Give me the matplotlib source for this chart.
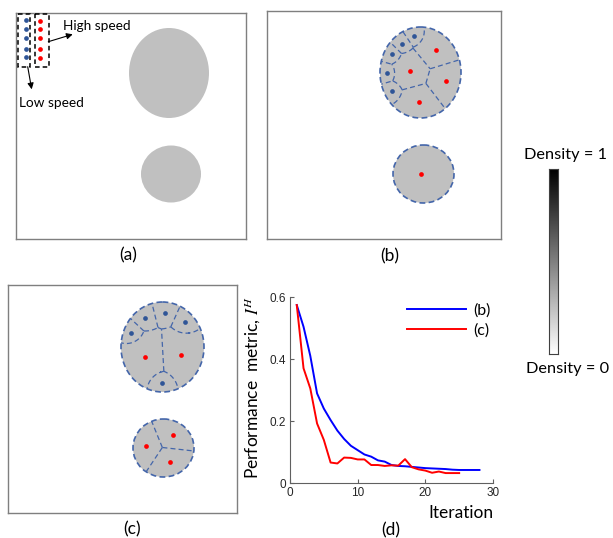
import numpy as np
import matplotlib
matplotlib.use('Agg')
import matplotlib.pyplot as plt
from matplotlib.patches import Ellipse, Rectangle

plt.rcParams['mathtext.fontset'] = 'stix'

# ---------------- data ----------------
# density regions per panel: centre x, centre y, width, height (panel units, y downward)
regions_a = [(153, 60, 80, 90), (155, 161, 60, 57)]
regions_b = [(153.5, 61.5, 81, 91), (156.5, 163, 61, 58)]
regions_c = [(154.5, 62, 83, 90), (155.5, 163, 61, 58)]

# (a) initial agent positions
a_low_x = [9.7, 9.7, 9.7, 9.7, 9.7]
a_low_y = [7, 16, 25, 35.7, 44.3]
a_high_x = [24.3, 24.3, 24.3, 24.3, 24.3]
a_high_y = [7.7, 16.3, 25, 36.3, 45]

# (b) final positions
b_low_x = [147.3, 135.3, 124.7, 119.7, 125]
b_low_y = [24.7, 32.7, 43.3, 61.7, 80]
b_high_x = [169, 143.3, 178.7, 151.7, 154]
b_high_y = [38.7, 60, 70.3, 91, 163]

# (c) final positions
c_low_x = [123, 137, 157, 177, 154]
c_low_y = [48, 33, 28, 37, 98]
c_high_x = [137, 173, 138, 165, 162]
c_high_y = [72, 70, 161, 150, 177]

speed_low = 1.0
speed_high = 2.0

# (d) performance metric
iter_b = list(range(1, 29))
metric_b = [0.574, 0.504, 0.41, 0.289, 0.24, 0.203, 0.169, 0.142, 0.12, 0.106,
            0.092, 0.085, 0.073, 0.069, 0.058, 0.055, 0.054, 0.052, 0.05, 0.048,
            0.047, 0.046, 0.045, 0.043, 0.042, 0.042, 0.042, 0.042]
iter_c = list(range(1, 26))
metric_c = [0.574, 0.37, 0.305, 0.192, 0.139, 0.066, 0.063, 0.082, 0.081, 0.076,
            0.076, 0.058, 0.058, 0.055, 0.057, 0.056, 0.077, 0.051, 0.044, 0.040,
            0.033, 0.037, 0.032, 0.032, 0.032]

# ---------------- style ----------------
W, H = 613, 538
TXT = ['Lato', 'DejaVu Sans']
GREY = '#c0c0c0'
EDGE = '#4466aa'
BLUE_DOT = '#2f5597'
RED_DOT = '#ff0000'
BORDER = '#7f7f7f'

fig = plt.figure(figsize=(W / 100, H / 100), dpi=100)


def px_axes(left, top, w, h):
    return fig.add_axes([left / W, 1 - (top + h) / H, w / W, h / H])


def panel(left, top, w, h):
    ax = px_axes(left, top, w, h)
    ax.set_xlim(0, w)
    ax.set_ylim(h, 0)
    ax.set_xticks([])
    ax.set_yticks([])
    for s in ax.spines.values():
        s.set_color(BORDER)
        s.set_linewidth(1.0)
    return ax


def draw_partition(ax, regions, xs, ys, speeds):
    pts = list(zip(xs, ys))
    for (cx, cy, w, h) in regions:
        fill = Ellipse((cx, cy), w, h, facecolor=GREY, edgecolor='none', zorder=1)
        ax.add_patch(fill)
        idx = [i for i, (x, y) in enumerate(pts)
               if ((x - cx) / (w / 2)) ** 2 + ((y - cy) / (h / 2)) ** 2 <= 1]
        if len(idx) >= 2:
            gx = np.arange(cx - w / 2 - 2, cx + w / 2 + 2, 0.2)
            gy = np.arange(cy - h / 2 - 2, cy + h / 2 + 2, 0.2)
            X, Y = np.meshgrid(gx, gy)
            T = np.array([np.hypot(X - pts[i][0], Y - pts[i][1]) / speeds[i] for i in idx])
            lab = T.argmin(0)
            for a in range(len(idx)):
                for b in range(a + 1, len(idx)):
                    m = (lab != a) & (lab != b)
                    if m.all():
                        continue
                    G = np.ma.array(T[a] - T[b], mask=m)
                    cs = ax.contour(X, Y, G, levels=[0], colors=EDGE, linewidths=0.9,
                                    linestyles=[(0, (4, 2.5))], zorder=2)
                    cs.set_clip_path(fill)
        ax.add_patch(Ellipse((cx, cy), w, h, facecolor='none', edgecolor=EDGE,
                             lw=1.2, ls=(0, (3.5, 2)), zorder=3))


def dots(ax, xs, ys, color):
    ax.plot(xs, ys, 'o', ms=3.4, color=color, mec='none', zorder=5)


# ---------------- panel (a) ----------------
axa = panel(16, 13, 229.5, 226)
for (cx, cy, w, h) in regions_a:
    axa.add_patch(Ellipse((cx, cy), w, h, facecolor=GREY, edgecolor='none'))
dots(axa, a_low_x, a_low_y, BLUE_DOT)
dots(axa, a_high_x, a_high_y, RED_DOT)
axa.add_patch(Rectangle((2.3, 1.3), 11.7, 52.4, fill=False, ec='black', lw=1.1,
                        ls=(0, (3, 2)), zorder=4))
axa.add_patch(Rectangle((19.3, 1.3), 13.4, 52.4, fill=False, ec='black', lw=1.1,
                        ls=(0, (3, 2)), zorder=4))
axa.annotate('', xy=(56.7, 21.3), xytext=(32.3, 28.7),
             arrowprops=dict(arrowstyle='-|>', color='black', lw=0.8,
                             mutation_scale=9, shrinkA=0, shrinkB=0))
axa.annotate('', xy=(15.7, 76.3), xytext=(11.7, 53.7),
             arrowprops=dict(arrowstyle='-|>', color='black', lw=0.8,
                             mutation_scale=9, shrinkA=0, shrinkB=0))
axa.text(47.3, 13, 'High speed', family=TXT, fontsize=9.8, ha='left', va='center')
axa.text(3, 90, 'Low speed', family=TXT, fontsize=9.8, ha='left', va='center')

# ---------------- panel (b) ----------------
axb = panel(267, 11, 234, 228)
draw_partition(axb, regions_b, b_low_x + b_high_x, b_low_y + b_high_y,
               [speed_low] * len(b_low_x) + [speed_high] * len(b_high_x))
dots(axb, b_low_x, b_low_y, BLUE_DOT)
dots(axb, b_high_x, b_high_y, RED_DOT)

# ---------------- panel (c) ----------------
axc = panel(8, 285, 229, 228)
draw_partition(axc, regions_c, c_low_x + c_high_x, c_low_y + c_high_y,
               [speed_low] * len(c_low_x) + [speed_high] * len(c_high_x))
dots(axc, c_low_x, c_low_y, BLUE_DOT)
dots(axc, c_high_x, c_high_y, RED_DOT)

# ---------------- panel (d) ----------------
axd = px_axes(290, 297, 203, 186)
axd.plot(iter_b, metric_b, color='#0000ff', lw=1.4, label='(b)')
axd.plot(iter_c, metric_c, color='#ff0000', lw=1.4, label='(c)')
axd.set_xlim(0, 30)
axd.set_ylim(0, 0.6)
axd.set_xticks([0, 10, 20, 30])
axd.set_yticks([0, 0.2, 0.4, 0.6])
axd.set_yticklabels(['0', '0.2', '0.4', '0.6'])
axd.tick_params(direction='in', length=3, width=0.8, color='#606060',
                labelsize=8.5, pad=3)
for lbl in axd.get_xticklabels() + axd.get_yticklabels():
    lbl.set_family('Liberation Sans')
    lbl.set_color('#262626')
for s in ['top', 'right']:
    axd.spines[s].set_visible(False)
for s in ['left', 'bottom']:
    axd.spines[s].set_color('#606060')
    axd.spines[s].set_linewidth(0.8)
axd.set_facecolor('none')
leg = axd.legend(loc='center left', bbox_to_anchor=(407 / W, 1 - 320.5 / H),
                 bbox_transform=fig.transFigure, frameon=False, borderpad=0,
                 borderaxespad=0, handlelength=3.7, handletextpad=0.45,
                 labelspacing=0.35, prop={'family': TXT, 'size': 11.5})
fig.text(253 / W, 1 - 387 / H, 'Performance  metric, $I^H$', family=TXT,
         fontsize=12.5, rotation=90, ha='center', va='center')
fig.text(493 / W, 1 - 513 / H, 'Iteration', family=TXT, fontsize=12.5,
         ha='right', va='center')

# ---------------- panel labels ----------------
for lab, x, y in [('(a)', 128, 255), ('(b)', 390, 256), ('(c)', 132, 529), ('(d)', 391, 530)]:
    fig.text(x / W, 1 - y / H, lab, family=TXT, fontsize=12.5, ha='center', va='center')

# ---------------- density colour bar ----------------
axcb = px_axes(549, 169, 9, 185)
axcb.imshow(np.linspace(1, 0, 256)[:, None], cmap='gray_r', aspect='auto',
            vmin=0, vmax=1)
axcb.set_xticks([])
axcb.set_yticks([])
for s in axcb.spines.values():
    s.set_color('#404040')
    s.set_linewidth(0.8)
fig.text(566 / W, 1 - 155 / H, 'Density = 1', family=TXT, fontsize=11.8,
         ha='center', va='center')
fig.text(568 / W, 1 - 369 / H, 'Density = 0', family=TXT, fontsize=11.8,
         ha='center', va='center')

fig.savefig('out.png', dpi=100)
